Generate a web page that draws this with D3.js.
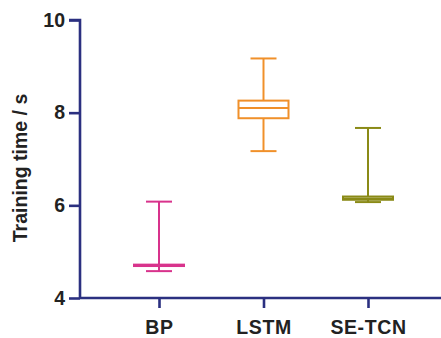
<!DOCTYPE html>
<html>
<head>
<meta charset="utf-8">
<script src="https://cdn.jsdelivr.net/npm/d3@7"></script>
<style>
  html, body { margin: 0; padding: 0; background: #fff; }
  svg { display: block; }
  text { font-family: "Liberation Sans", Arial, sans-serif; font-weight: bold; fill: #222; }
</style>
</head>
<body>
<svg id="chart" width="441" height="338"></svg>
<script>
// Training time distribution per model (seconds)
const categories = ["BP", "LSTM", "SE-TCN"];
const whiskerMin = [4.58, 7.17, 6.07];
const q1         = [4.69, 7.88, 6.12];
const median     = [4.71, 8.10, 6.15];
const q3         = [4.72, 8.26, 6.19];
const whiskerMax = [6.08, 9.17, 7.67];
const colors     = ["#d8338c", "#f0902a", "#8a8a16"];
const yTicks     = [4, 6, 8, 10];

const svg = d3.select("#chart");
const axisColor = "#2b3080";
const fontSize = "19.5px";
const margin = { left: 80, top: 20 };
const plotBottom = 298;

const x = d3.scalePoint()
  .domain(categories)
  .range([159, 368]);

const y = d3.scaleLinear()
  .domain([4, 10])
  .range([plotBottom, margin.top]);

// Y axis
const yAxis = svg.append("g")
  .attr("transform", `translate(${margin.left},0)`)
  .call(d3.axisLeft(y).tickValues(yTicks).tickSize(11).tickPadding(4).tickFormat(d3.format("d")));
yAxis.select(".domain").attr("stroke", axisColor).attr("stroke-width", 2.6).attr("d", `M-11,${y(10)}H0V${plotBottom}`);
yAxis.selectAll(".tick line").attr("stroke", axisColor).attr("stroke-width", 2.6);
yAxis.selectAll(".tick text").style("font-size", fontSize).attr("fill", "#222");

// X axis
const xAxis = svg.append("g")
  .attr("transform", `translate(0,${plotBottom})`)
  .call(d3.axisBottom(x).tickSize(10).tickPadding(12));
xAxis.select(".domain").attr("stroke", axisColor).attr("stroke-width", 2.6).attr("d", `M${margin.left},0H441`);
xAxis.selectAll(".tick line").attr("stroke", axisColor).attr("stroke-width", 2.6);
xAxis.selectAll(".tick text").style("font-size", fontSize).style("letter-spacing", "0.6px").attr("fill", "#222");

// Y axis title
svg.append("text")
  .attr("transform", `translate(27,168) rotate(-90)`)
  .attr("text-anchor", "middle")
  .style("font-size", fontSize)
  .text("Training time / s");

// Box plots
const boxW = 50, capW = 26;
categories.forEach((c, i) => {
  const g = svg.append("g")
    .attr("stroke", colors[i])
    .attr("stroke-width", 2)
    .attr("fill", "none");
  const cx = x(c);
  // whisker stems
  g.append("line").attr("x1", cx).attr("x2", cx).attr("y1", y(whiskerMax[i])).attr("y2", y(q3[i]));
  g.append("line").attr("x1", cx).attr("x2", cx).attr("y1", y(q1[i])).attr("y2", y(whiskerMin[i]));
  // caps
  g.append("line").attr("x1", cx - capW / 2).attr("x2", cx + capW / 2).attr("y1", y(whiskerMax[i])).attr("y2", y(whiskerMax[i]));
  g.append("line").attr("x1", cx - capW / 2).attr("x2", cx + capW / 2).attr("y1", y(whiskerMin[i])).attr("y2", y(whiskerMin[i]));
  // box
  g.append("rect")
    .attr("x", cx - boxW / 2).attr("width", boxW)
    .attr("y", y(q3[i])).attr("height", y(q1[i]) - y(q3[i]));
  // median
  g.append("line").attr("x1", cx - boxW / 2).attr("x2", cx + boxW / 2).attr("y1", y(median[i])).attr("y2", y(median[i]));
});
</script>
</body>
</html>
